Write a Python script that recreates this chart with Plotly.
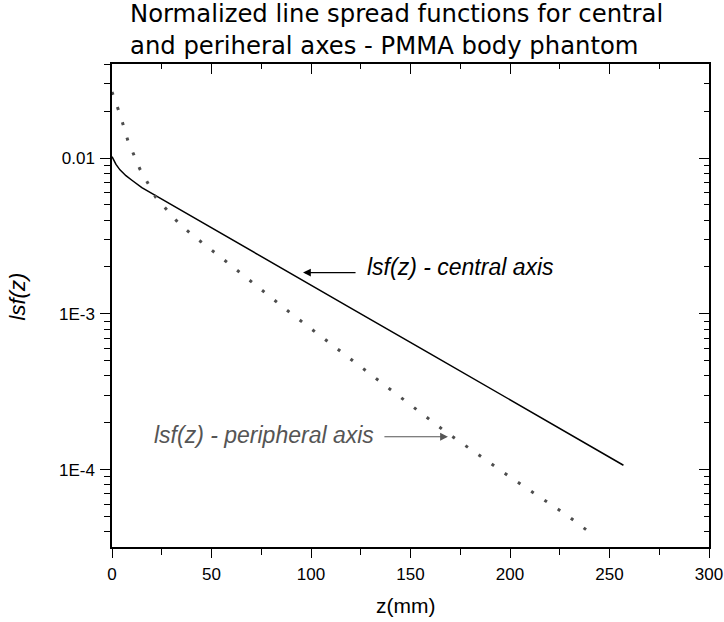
import plotly.graph_objects as go

# Data
z_central = [0, 1, 2, 4, 7, 10, 15, 20, 30, 50, 80, 120, 160, 200, 240, 257]
lsf_central = [0.0102, 0.0096, 0.0091, 0.0084, 0.0077, 0.0072, 0.00645, 0.00593,
               0.0050, 0.00357, 0.00215, 0.00109, 5.55e-4, 2.82e-4, 1.43e-4, 1.07e-4]

z_peripheral = [0, 2, 4, 8, 14, 22, 34, 41, 60, 89, 130, 167, 200, 229, 242]
lsf_peripheral = [0.0265, 0.0225, 0.0191, 0.0129, 0.0085, 0.0056, 0.00376, 0.00316,
                  0.00204, 0.00103, 4.12e-4, 1.78e-4, 9.0e-5, 5.07e-5, 3.8e-5]

y_major_vals = [1e-4, 1e-3, 1e-2]
y_major_text = ["1E-4", "1E-3", "0.01"]
y_minor_vals = [k * 10.0 ** e for e in (-5, -4, -3, -2) for k in range(2, 10)]
x_major_vals = [0, 50, 100, 150, 200, 250, 300]

title_lines = ["Normalized line spread functions for central",
               "and periheral axes - PMMA body phantom"]

FONT = "Liberation Sans, Arial, Helvetica, sans-serif"
TITLE_FONT = "DejaVu Sans, Liberation Sans, sans-serif"
x_range = [0, 300]
y_range = [-4.495, -1.397]

fig = go.Figure()
fig.add_trace(go.Scatter(x=z_central, y=lsf_central, mode="lines",
                         line=dict(color="black", width=1.5), showlegend=False))
fig.add_trace(go.Scatter(x=z_peripheral, y=lsf_peripheral, mode="lines",
                         line=dict(color="#4d4d4d", width=3, dash="3px,13px"),
                         showlegend=False))
fig.add_trace(go.Scatter(x=[], y=[], xaxis="x2", yaxis="y2", showlegend=False))

axis_common = dict(showline=True, linecolor="black", linewidth=1.5, automargin=False,
                   showgrid=False, zeroline=False, tickcolor="black", tickwidth=1.3)

fig.update_layout(
    width=724, height=622,
    margin=dict(l=112, r=15, t=64, b=75, autoexpand=False),
    showlegend=False,
    paper_bgcolor="white", plot_bgcolor="white",
    font=dict(family=FONT, color="black"),
    xaxis=dict(range=x_range, tickvals=x_major_vals, ticks="outside", ticklen=9,
               tickfont=dict(size=17), ticklabelstandoff=2,
               minor=dict(dtick=25, tick0=0, ticks="outside", ticklen=6,
                          tickcolor="black", tickwidth=1.3),
               **axis_common),
    yaxis=dict(type="log", range=y_range, tickvals=y_major_vals, ticktext=y_major_text,
               ticks="outside", ticklen=10, tickfont=dict(size=17), ticklabelstandoff=2,
               minor=dict(tickvals=y_minor_vals, ticks="outside", ticklen=6,
                          tickcolor="black", tickwidth=1.3),
               **axis_common),
    xaxis2=dict(overlaying="x", side="top", anchor="y", range=x_range,
                tickvals=x_major_vals, ticks="inside", ticklen=10, showticklabels=False,
                minor=dict(dtick=25, tick0=0, ticks="inside", ticklen=5,
                           tickcolor="black", tickwidth=1.3),
                **axis_common),
    yaxis2=dict(overlaying="y", side="right", anchor="x", type="log", range=y_range,
                tickvals=y_major_vals, ticks="inside", ticklen=10, showticklabels=False,
                minor=dict(tickvals=y_minor_vals, ticks="inside", ticklen=5,
                           tickcolor="black", tickwidth=1.3),
                **axis_common),
)

annotations = [
    dict(text="<br>".join(title_lines), xref="paper", yref="paper", x=0.027, y=1.071,
         xanchor="left", yanchor="middle", align="left", showarrow=False,
         font=dict(size=24.3, family=TITLE_FONT)),
    dict(text="<i>lsf(z)</i>", xref="paper", yref="paper", x=-0.159, y=0.519,
         xanchor="center", yanchor="middle", textangle=-90, showarrow=False,
         font=dict(size=22)),
    dict(text="z(mm)", xref="paper", yref="paper", x=0.491, y=-0.122,
         xanchor="center", yanchor="middle", showarrow=False, font=dict(size=21)),
    dict(text="<i>lsf(z) - central axis</i>", x=127.1, y=-2.699, xanchor="left",
         yanchor="middle", showarrow=False, font=dict(size=23, color="black")),
    dict(text="", x=96, y=-2.735, ax=54, ay=0, showarrow=True, arrowhead=2,
         arrowsize=1.3, arrowwidth=1.2, arrowcolor="black"),
    dict(text="<i>lsf(z) - peripheral axis</i>", x=20.1, y=-3.776, xanchor="left",
         yanchor="middle", showarrow=False, font=dict(size=23, color="#555555")),
    dict(text="", x=168.8, y=-3.788, ax=-65, ay=0, showarrow=True, arrowhead=2,
         arrowsize=1.3, arrowwidth=1.2, arrowcolor="#555555"),
]
fig.update_layout(annotations=annotations)

fig.write_html("out.html")
